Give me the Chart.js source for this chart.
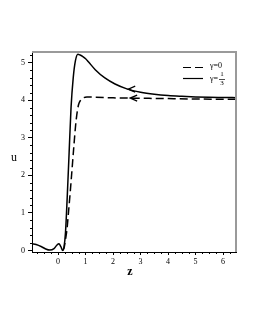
<!DOCTYPE html>
<html>
<head>
<meta charset="utf-8">
<script src="https://cdn.jsdelivr.net/npm/chart.js@4/dist/chart.umd.min.js"></script>
<style>
  html, body { margin: 0; padding: 0; background: #fff; }
  #wrap { width: 255px; height: 330px; }
</style>
</head>
<body>
<div id="wrap"><canvas id="chart" width="255" height="330"></canvas></div>
<script>
// gamma = 1/3 (solid)
var zSolid = [-0.95, -0.8, -0.6, -0.45, -0.3, -0.15, -0.05, 0.03, 0.1, 0.17, 0.22, 0.27, 0.33, 0.40, 0.47, 0.55, 0.63, 0.72, 0.8, 0.9, 1.0, 1.1, 1.35, 1.7, 2.07, 2.5, 3.0, 3.5, 4.0, 4.5, 5.0, 5.5, 6.0, 6.47];
var uSolid = [0.18, 0.16, 0.10, 0.04, 0.01, 0.05, 0.14, 0.18, 0.10, 0.0, 0.12, 0.5, 1.4, 2.6, 3.8, 4.6, 5.05, 5.22, 5.2, 5.16, 5.1, 5.02, 4.81, 4.59, 4.43, 4.3, 4.21, 4.155, 4.12, 4.1, 4.085, 4.075, 4.07, 4.065];

// gamma = 0 (dashed)
var zDashed = [0.17, 0.22, 0.27, 0.32, 0.38, 0.44, 0.5, 0.57, 0.65, 0.74, 0.82, 0.92, 1.05, 1.3, 2.0, 3.0, 4.0, 5.0, 6.47];
var uDashed = [0.0, 0.08, 0.3, 0.55, 1.04, 1.55, 2.1, 2.75, 3.43, 3.87, 4.0, 4.06, 4.08, 4.08, 4.06, 4.05, 4.04, 4.03, 4.02];

// arrow heads (pointing left) on each curve
var arrowZ = [2.55, 2.62];
var arrowU = [4.29, 4.055];

var xTicks = [0, 1, 2, 3, 4, 5, 6];
var yTicks = [0, 1, 2, 3, 4, 5];

function toPoints(xs, ys){
  var pts = [];
  for (var i = 0; i < xs.length; i++) pts.push({x: xs[i], y: ys[i]});
  return pts;
}

var serif = "'Liberation Serif', 'Times New Roman', serif";

var decorPlugin = {
  id: "decor",
  afterDraw: function(chart){
    var ctx = chart.ctx;
    var xs = chart.scales.x, ys = chart.scales.y;
    var a = chart.chartArea;
    ctx.save();

    // gray frame top/right
    ctx.strokeStyle = "#9a9a9a";
    ctx.lineWidth = 2;
    ctx.beginPath();
    ctx.moveTo(a.left, a.top);
    ctx.lineTo(a.right, a.top);
    ctx.lineTo(a.right, a.bottom);
    ctx.stroke();

    // minor ticks
    ctx.strokeStyle = "#000";
    ctx.lineWidth = 1;
    ctx.beginPath();
    for (var v = -0.75; v <= 6.47; v += 0.25){
      if (Math.abs(v - Math.round(v)) < 0.01) continue;
      var px = Math.round(xs.getPixelForValue(v)) + 0.5;
      ctx.moveTo(px, a.bottom);
      ctx.lineTo(px, a.bottom + 2);
    }
    for (var w = 0.2; w <= 5.28; w += 0.2){
      if (Math.abs(w - Math.round(w)) < 0.01) continue;
      var py = Math.round(ys.getPixelForValue(w)) + 0.5;
      ctx.moveTo(a.left, py);
      ctx.lineTo(a.left - 2, py);
    }
    ctx.stroke();

    // arrow heads
    ctx.lineWidth = 1.3;
    for (var i = 0; i < arrowZ.length; i++){
      var ax = xs.getPixelForValue(arrowZ[i]);
      var ay = ys.getPixelForValue(arrowU[i]);
      ctx.beginPath();
      ctx.moveTo(ax + 7, ay - 3);
      ctx.lineTo(ax, ay);
      ctx.lineTo(ax + 7, ay + 3);
      ctx.stroke();
    }

    // legend
    ctx.lineWidth = 1.2;
    ctx.setLineDash([8, 4]);
    ctx.beginPath();
    ctx.moveTo(183, 67.5);
    ctx.lineTo(203, 67.5);
    ctx.stroke();
    ctx.setLineDash([]);
    ctx.beginPath();
    ctx.moveTo(183, 78.5);
    ctx.lineTo(203, 78.5);
    ctx.stroke();

    ctx.fillStyle = "#000";
    ctx.font = "8px " + serif;
    ctx.textAlign = "left";
    ctx.textBaseline = "middle";
    ctx.fillText("\u03b3=0", 210, 66);
    ctx.fillText("\u03b3=", 210, 79);
    ctx.textAlign = "center";
    ctx.font = "7px " + serif;
    ctx.fillText("1", 222, 74.5);
    ctx.fillText("3", 222, 83.5);
    ctx.beginPath();
    ctx.lineWidth = 0.7;
    ctx.moveTo(219, 79.5);
    ctx.lineTo(225, 79.5);
    ctx.stroke();

    // axis titles
    ctx.font = "12px " + serif;
    ctx.textAlign = "center";
    ctx.fillText("u", 14, 158);
    ctx.font = "bold 12px " + serif;
    ctx.fillText("z", 130, 272);
    ctx.restore();
  }
};

new Chart(document.getElementById("chart"), {
  type: "scatter",
  data: {
    datasets: [
      {
        label: "\u03b3=0",
        data: toPoints(zDashed, uDashed),
        showLine: true,
        borderColor: "#000",
        borderWidth: 1.5,
        borderDash: [8, 4],
        pointRadius: 0,
        cubicInterpolationMode: "monotone"
      },
      {
        label: "\u03b3=1/3",
        data: toPoints(zSolid, uSolid),
        showLine: true,
        borderColor: "#000",
        borderWidth: 1.5,
        pointRadius: 0,
        cubicInterpolationMode: "monotone"
      }
    ]
  },
  options: {
    responsive: false,
    animation: false,
    devicePixelRatio: 1,
    layout: { padding: { left: 0, top: 52, right: 19, bottom: 0 } },
    plugins: {
      legend: { display: false },
      tooltip: { enabled: false }
    },
    scales: {
      x: {
        type: "linear",
        min: -0.95,
        max: 6.47,
        afterBuildTicks: function(scale){
          scale.ticks = xTicks.map(function(v){ return {value: v}; });
        },
        afterFit: function(scale){ scale.height = 78; },
        grid: { drawOnChartArea: false, drawTicks: true, tickLength: 3, color: "#000" },
        border: { display: true, color: "#000", width: 1 },
        ticks: {
          color: "#000",
          padding: 2,
          maxRotation: 0,
          font: { family: serif, size: 8 }
        }
      },
      y: {
        type: "linear",
        min: -0.04,
        max: 5.28,
        afterBuildTicks: function(scale){
          scale.ticks = yTicks.map(function(v){ return {value: v}; });
        },
        afterFit: function(scale){ scale.width = 32; },
        grid: { drawOnChartArea: false, drawTicks: true, tickLength: 4, color: "#000" },
        border: { display: true, color: "#000", width: 1 },
        ticks: {
          color: "#000",
          padding: 3,
          font: { family: serif, size: 8 }
        }
      }
    }
  },
  plugins: [decorPlugin]
});
</script>
</body>
</html>
